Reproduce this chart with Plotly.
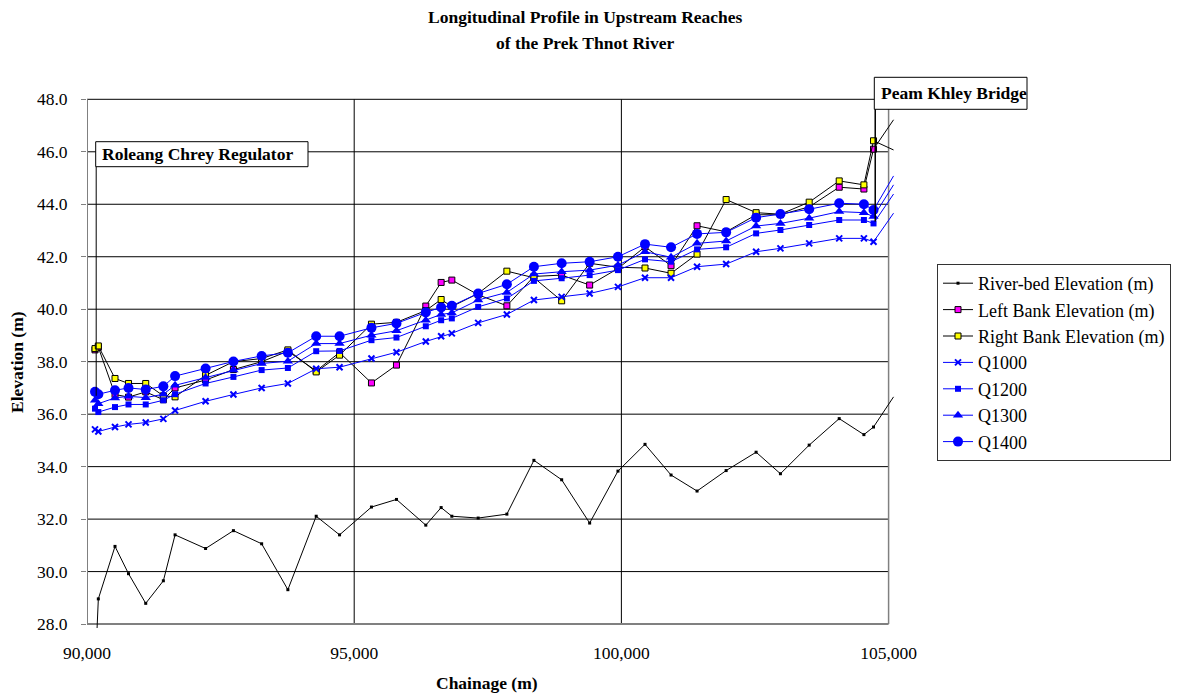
import plotly.graph_objects as go

# Chainage of each cross-section (m)
chainage = [90150, 90212, 90524, 90777, 91099, 91429, 91648, 92219, 92740, 93268,
            93759, 94289, 94726, 95323, 95791, 96340, 96627, 96827, 97320, 97857,
            98363, 98882, 99406, 99936, 100442, 100929, 101416, 101960, 102521, 102976,
            103514, 104076, 104538, 104718, 105093]

river_bed = [26.00, 28.96, 30.96, 29.92, 28.79, 29.65, 31.40, 30.88, 31.56, 31.06,
             29.31, 32.11, 31.40, 32.46, 32.75, 31.77, 32.44, 32.11, 32.04, 32.19,
             34.24, 33.50, 31.85, 33.83, 34.85, 33.68, 33.07, 33.85, 34.55, 33.73,
             34.82, 35.83, 35.22, 35.51, 36.66]

left_bank = [38.45, 38.55, 36.75, 36.65, 36.85, 36.55, 37.00, 37.30, 37.70, 38.00,
             38.40, 37.65, 38.35, 37.19, 37.87, 40.12, 41.02, 41.11, 40.55, 40.13,
             41.25, 41.30, 40.92, 41.55, 42.38, 41.66, 43.18, 42.95, 43.60, 43.60,
             43.90, 44.65, 44.58, 46.10, 47.22]

right_bank = [38.50, 38.60, 37.36, 37.17, 37.17, 36.70, 36.66, 37.48, 38.00, 38.12,
              38.45, 37.61, 38.25, 39.43, 39.50, 39.95, 40.37, 40.10, 40.60, 41.45,
              41.20, 40.32, 41.75, 41.60, 41.57, 41.37, 42.10, 44.18, 43.68, 43.62,
              44.08, 44.89, 44.74, 46.42, 46.07]

q1000 = [35.42, 35.34, 35.51, 35.61, 35.68, 35.82, 36.14, 36.49, 36.75, 37.00,
         37.17, 37.73, 37.79, 38.12, 38.36, 38.77, 38.97, 39.08, 39.48, 39.80,
         40.35, 40.47, 40.60, 40.85, 41.20, 41.20, 41.62, 41.72, 42.19, 42.32,
         42.51, 42.70, 42.70, 42.57, 43.66]

q1200 = [36.21, 36.08, 36.27, 36.37, 36.37, 36.53, 36.76, 37.17, 37.42, 37.68,
         37.76, 38.40, 38.41, 38.82, 38.92, 39.35, 39.58, 39.65, 40.09, 40.41,
         41.08, 41.18, 41.30, 41.49, 41.90, 41.81, 42.28, 42.36, 42.89, 43.02,
         43.21, 43.40, 43.40, 43.27, 44.39]

q1300 = [36.53, 36.40, 36.62, 36.68, 36.63, 36.76, 37.10, 37.40, 37.68, 37.93,
         38.02, 38.69, 38.69, 39.01, 39.18, 39.58, 39.80, 39.86, 40.35, 40.64,
         41.34, 41.43, 41.49, 41.68, 42.19, 41.98, 42.51, 42.60, 43.17, 43.27,
         43.47, 43.72, 43.68, 43.53, 44.74]

q1400 = [36.85, 36.76, 36.91, 37.00, 36.94, 37.06, 37.45, 37.74, 38.01, 38.22,
         38.34, 38.97, 38.97, 39.29, 39.46, 39.88, 40.07, 40.13, 40.60, 40.95,
         41.62, 41.75, 41.81, 42.00, 42.48, 42.36, 42.87, 42.93, 43.49, 43.63,
         43.81, 44.04, 44.00, 43.78, 45.08]

x_ticks = [90000, 95000, 100000, 105000]
y_ticks = [28, 30, 32, 34, 36, 38, 40, 42, 44, 46, 48]

# Structures marked on the profile
regulator_ch, regulator_level = 90172, 36.70
bridge_ch, bridge_level = 104750, 43.34

FONT = "Liberation Serif"
FS = 17.5
BLUE = "#0000FF"

W, H = 1179, 695
L, R, T, B = 87, 284, 98, 67
PW, PH = W - L - R, H - T - B
X_RANGE = [90000, 105120]
Y_RANGE = [27.85, 48.05]


def xp(px):
    return (px - L) / PW


def yp(py):
    return (H - B - py) / PH


def elev_at(py):
    return Y_RANGE[1] - (py - T) / PH * (Y_RANGE[1] - Y_RANGE[0])


# sections inside the axis range get markers; the section past the last tick is line only
n_in = sum(1 for c in chainage if c <= x_ticks[-1])

series = [
    ("River-bed Elevation (m)", river_bed, dict(color="black", width=1),
     dict(symbol="square", size=3, color="black")),
    ("Left Bank Elevation (m)", left_bank, dict(color="black", width=1),
     dict(symbol="square", size=6, color="#FF00FF", line=dict(color="black", width=1))),
    ("Right Bank Elevation (m)", right_bank, dict(color="black", width=1),
     dict(symbol="square", size=6, color="#FFFF00", line=dict(color="black", width=1))),
    ("Q1000", q1000, dict(color=BLUE, width=1),
     dict(symbol="x-thin", size=6, color=BLUE, line=dict(color=BLUE, width=2))),
    ("Q1200", q1200, dict(color=BLUE, width=1),
     dict(symbol="square", size=6, color=BLUE)),
    ("Q1300", q1300, dict(color=BLUE, width=1),
     dict(symbol="triangle-up", size=9, color=BLUE)),
    ("Q1400", q1400, dict(color=BLUE, width=1),
     dict(symbol="circle", size=10, color=BLUE)),
]

fig = go.Figure()
for name, vals, line, marker in series:
    fig.add_trace(go.Scatter(
        x=chainage[n_in - 1:], y=vals[n_in - 1:], mode="lines", line=line,
        showlegend=False, hoverinfo="skip", legendgroup=name))
    fig.add_trace(go.Scatter(
        x=chainage[:n_in], y=vals[:n_in], name=name, mode="lines+markers",
        line=line, marker=marker, legendgroup=name))

shapes = []
# horizontal gridlines
for v in y_ticks[1:]:
    shapes.append(dict(type="line", xref="x", yref="y", x0=x_ticks[0], x1=x_ticks[-1],
                       y0=v, y1=v, line=dict(color="black", width=1), layer="below"))
# vertical gridlines
for v in x_ticks[1:-1]:
    shapes.append(dict(type="line", xref="x", yref="y", x0=v, x1=v,
                       y0=y_ticks[0], y1=y_ticks[-1], line=dict(color="black", width=1), layer="below"))
# plot frame
shapes.append(dict(type="line", xref="x", yref="y", x0=x_ticks[-1], x1=x_ticks[-1],
                   y0=y_ticks[0], y1=y_ticks[-1], line=dict(color="#808080", width=1.5), layer="below"))
shapes.append(dict(type="line", xref="x", yref="y", x0=x_ticks[0], x1=x_ticks[0],
                   y0=y_ticks[0], y1=y_ticks[-1], line=dict(color="#808080", width=2), layer="below"))
shapes.append(dict(type="line", xref="x", yref="y", x0=x_ticks[0], x1=x_ticks[-1],
                   y0=y_ticks[0], y1=y_ticks[0], line=dict(color="#808080", width=2), layer="below"))

# callout boxes and leader lines
reg_box = (95.7, 141.7, 308, 166.7)
brg_box = (874.3, 77.3, 1027, 109.3)
for (x0, y0, x1, y1) in (reg_box, brg_box):
    shapes.append(dict(type="rect", xref="paper", yref="paper",
                       x0=xp(x0), x1=xp(x1), y0=yp(y1), y1=yp(y0),
                       line=dict(color="black", width=1), fillcolor="white", layer="above"))
shapes.append(dict(type="line", xref="x", yref="y", x0=regulator_ch, x1=regulator_ch,
                   y0=elev_at(reg_box[3]), y1=regulator_level, line=dict(color="black", width=1)))
shapes.append(dict(type="line", xref="x", yref="y", x0=bridge_ch, x1=bridge_ch,
                   y0=elev_at(brg_box[3]), y1=bridge_level, line=dict(color="black", width=1.5)))

annotations = [
    dict(text="<b>Longitudinal Profile in Upstream Reaches</b>", x=xp(585), y=yp(17),
         xref="paper", yref="paper", xanchor="center", yanchor="middle", showarrow=False,
         font=dict(family=FONT, size=FS, color="black")),
    dict(text="<b>of the Prek Thnot River</b>", x=xp(585), y=yp(43),
         xref="paper", yref="paper", xanchor="center", yanchor="middle", showarrow=False,
         font=dict(family=FONT, size=FS, color="black")),
    dict(text="<b>Elevation (m)</b>", x=xp(17), y=yp(362), textangle=-90,
         xref="paper", yref="paper", xanchor="center", yanchor="middle", showarrow=False,
         font=dict(family=FONT, size=FS, color="black")),
    dict(text="<b>Chainage (m)</b>", x=xp(487), y=yp(683),
         xref="paper", yref="paper", xanchor="center", yanchor="middle", showarrow=False,
         font=dict(family=FONT, size=FS, color="black")),
    dict(text="<b>Roleang Chrey Regulator</b>", x=xp(100), y=yp((reg_box[1] + reg_box[3]) / 2),
         xref="paper", yref="paper", xanchor="left", yanchor="middle", showarrow=False,
         font=dict(family=FONT, size=FS, color="black")),
    dict(text="<b>Peam Khley Bridge</b>", x=xp(879), y=yp((brg_box[1] + brg_box[3]) / 2),
         xref="paper", yref="paper", xanchor="left", yanchor="middle", showarrow=False,
         font=dict(family=FONT, size=FS, color="black")),
]

fig.update_layout(
    width=W, height=H,
    margin=dict(l=L, r=R, t=T, b=B, autoexpand=False),
    paper_bgcolor="white", plot_bgcolor="white",
    font=dict(family=FONT, size=FS, color="black"),
    shapes=shapes, annotations=annotations,
    showlegend=True,
    legend=dict(x=xp(937), y=yp(264), xanchor="left", yanchor="top",
                bgcolor="white", bordercolor="#333333", borderwidth=1,
                font=dict(family=FONT, size=18, color="black"),
                tracegroupgap=0, itemwidth=30, groupclick="togglegroup"),
    xaxis=dict(range=X_RANGE, tickvals=x_ticks, ticktext=[f"{v:,}" for v in x_ticks],
               showgrid=False, zeroline=False, showline=False, ticks="",
               ticklabelstandoff=12, tickfont=dict(family=FONT, size=FS, color="black")),
    yaxis=dict(range=Y_RANGE, tickvals=y_ticks, ticktext=[f"{v:.1f}" for v in y_ticks],
               showgrid=False, zeroline=False, showline=False, ticks="outside",
               ticklen=5, tickcolor="#808080", ticklabelstandoff=10,
               tickfont=dict(family=FONT, size=FS, color="black")),
)

fig.write_html("out.html")
